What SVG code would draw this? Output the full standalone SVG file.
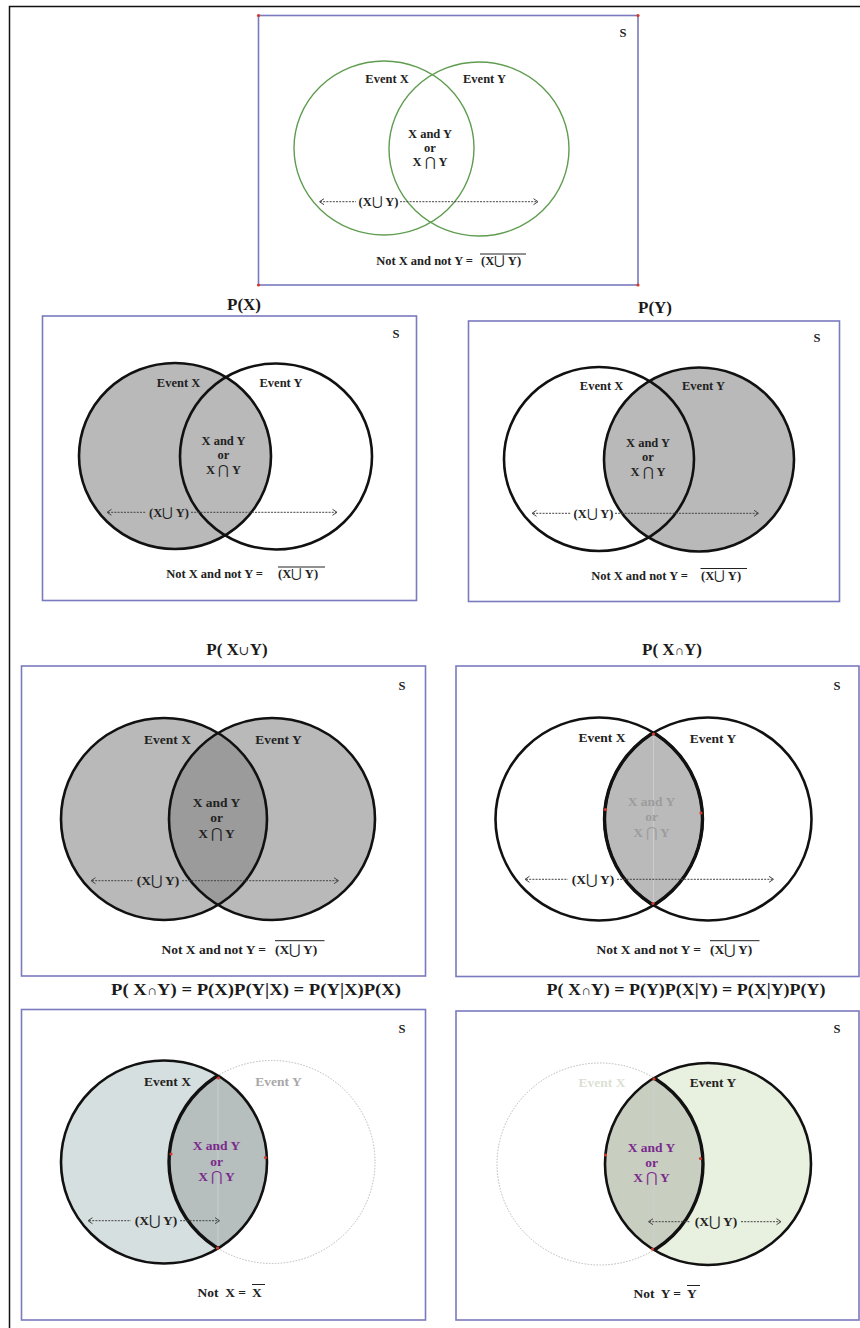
<svg xmlns="http://www.w3.org/2000/svg" width="860" height="1328" viewBox="0 0 860 1328">
<style>
.t{font-family:"Liberation Serif","DejaVu Serif",serif;font-weight:bold;fill:#222;text-anchor:middle}
.s{font-size:12.5px}
.m{font-size:13.5px}
.ttl{font-size:17px;fill:#1a1a1a}
.e{text-anchor:end}
.st{text-anchor:start}
.frame{fill:#fff;stroke:#7a7abf;stroke-width:1.6}
.green{fill:none;stroke:#5f9c50;stroke-width:1.4}
.ring{fill:none;stroke:#111;stroke-width:2.6}
.thick{fill:none;stroke:#111;stroke-width:3.4}
.ghost{fill:none;stroke:#b8b8b8;stroke-width:1;stroke-dasharray:1.5 1.5}
.ov{stroke:#222;stroke-width:1}
.dash{stroke:#444;stroke-width:1;stroke-dasharray:2 1.2;fill:none}
.head{stroke:#444;stroke-width:1;fill:none}
.dot{fill:#d23a2a}
.seam{stroke:#d0d0d0;stroke-width:0.8}
.sym{font-family:"DejaVu Serif",serif;font-weight:normal}
</style>
<defs>
<clipPath id="cR4"><ellipse cx="272" cy="819" rx="103" ry="101"/></clipPath>
<clipPath id="cR5"><ellipse cx="708" cy="819" rx="103.5" ry="101.5"/></clipPath>
<clipPath id="cL5"><ellipse cx="599" cy="819" rx="103.5" ry="101.5"/></clipPath>
<clipPath id="cR6"><ellipse cx="272" cy="1162" rx="103" ry="101.5"/></clipPath>
<clipPath id="cL6"><ellipse cx="164" cy="1162" rx="103" ry="101.5"/></clipPath>
<clipPath id="cL7"><ellipse cx="600" cy="1164" rx="103" ry="101"/></clipPath>
<clipPath id="cR7"><ellipse cx="708" cy="1164" rx="103" ry="101"/></clipPath>
</defs>
<rect width="860" height="1328" fill="#fff"/>
<path d="M9.5 1328 V6.5 H860" fill="none" stroke="#111" stroke-width="1.5"/>

<g id="panel-top">
<rect class="frame" x="258.5" y="15.5" width="379.5" height="269.5"/>
<circle class="dot" cx="258.5" cy="15.5" r="1.6"/><circle class="dot" cx="638" cy="15.5" r="1.6"/>
<circle class="dot" cx="258.5" cy="285" r="1.6"/><circle class="dot" cx="638" cy="285" r="1.6"/>
<ellipse class="green" cx="384" cy="148" rx="90" ry="87"/>
<ellipse class="green" cx="479" cy="149" rx="90" ry="87"/>
<text class="t s" x="623" y="37">S</text>
<text class="t s" x="387" y="83">Event X</text>
<text class="t s" x="484.5" y="83">Event Y</text>
<text class="t s" x="430" y="138">X and Y</text>
<text class="t s" x="430" y="152">or</text>
<text class="t s" x="430" y="165.5">X <tspan class="sym">⋂</tspan> Y</text>
<text class="t s e" x="473" y="265">Not X and not Y  =</text>
<text class="t s st" x="481" y="265">(X<tspan class="sym">⋃</tspan> Y)</text>
<line class="ov" x1="480" y1="254" x2="526" y2="254"/>
</g>

<g id="panel-px">
<text class="t ttl" x="244" y="310">P(X)</text>
<rect class="frame" x="42.5" y="316" width="374" height="284.5"/>
<ellipse cx="175" cy="456" rx="96" ry="93" fill="#b9b9b9"/>
<ellipse class="ring" cx="175" cy="456" rx="96" ry="93"/>
<ellipse class="ring" cx="276" cy="456.5" rx="96" ry="93"/>
<text class="t s" x="396" y="338">S</text>
<text class="t s" x="178.5" y="387">Event X</text>
<text class="t s" x="281" y="387">Event Y</text>
<text class="t s" x="223.5" y="445">X and Y</text>
<text class="t s" x="223.5" y="458.5">or</text>
<text class="t s" x="223.5" y="473.5">X <tspan class="sym">⋂</tspan> Y</text>
<text class="t s e" x="263" y="578">Not X and not Y  =</text>
<text class="t s st" x="278" y="578">(X<tspan class="sym">⋃</tspan> Y)</text>
<line class="ov" x1="278" y1="567" x2="325" y2="567"/>
</g>

<g id="panel-py">
<text class="t ttl" x="655" y="313">P(Y)</text>
<rect class="frame" x="468.5" y="321" width="371" height="280.5"/>
<ellipse cx="699" cy="459.5" rx="95" ry="92" fill="#b9b9b9"/>
<ellipse class="ring" cx="599" cy="459" rx="95" ry="92"/>
<ellipse class="ring" cx="699" cy="459.5" rx="95" ry="92"/>
<text class="t s" x="817" y="342">S</text>
<text class="t s" x="601.5" y="390">Event X</text>
<text class="t s" x="703.5" y="390">Event Y</text>
<text class="t s" x="648" y="447">X and Y</text>
<text class="t s" x="648" y="461">or</text>
<text class="t s" x="648" y="476">X <tspan class="sym">⋂</tspan> Y</text>
<text class="t s e" x="688" y="580">Not X and not Y  =</text>
<text class="t s st" x="701" y="580">(X<tspan class="sym">⋃</tspan> Y)</text>
<line class="ov" x1="700.5" y1="568.5" x2="747" y2="568.5"/>
</g>

<g id="panel-union">
<text class="t ttl" x="237" y="655">P( X<tspan font-weight="normal" font-size="13">∪</tspan>Y)</text>
<rect class="frame" x="21.5" y="666" width="404" height="310"/>
<ellipse cx="164" cy="819" rx="103" ry="101" fill="#b9b9b9"/>
<ellipse cx="272" cy="819" rx="103" ry="101" fill="#b9b9b9"/>
<ellipse cx="164" cy="819" rx="103" ry="101" fill="#9b9b9b" clip-path="url(#cR4)"/>
<ellipse class="ring" cx="164" cy="819" rx="103" ry="101"/>
<ellipse class="ring" cx="272" cy="819" rx="103" ry="101"/>
<text class="t s" x="402" y="690">S</text>
<text class="t m" x="167.5" y="743.5">Event X</text>
<text class="t m" x="278.5" y="743.5">Event Y</text>
<text class="t m" x="216.5" y="807">X and Y</text>
<text class="t m" x="216.5" y="821.5">or</text>
<text class="t m" x="216.5" y="837.5">X <tspan class="sym">⋂</tspan> Y</text>
<text class="t m e" x="266" y="953.5">Not X and not Y  =</text>
<text class="t m st" x="275" y="953.5">(X<tspan class="sym">⋃</tspan> Y)</text>
<line class="ov" x1="275" y1="940.7" x2="324.5" y2="940.7"/>
</g>

<g id="panel-intersection">
<text class="t ttl" x="672" y="655">P( X<tspan font-weight="normal" font-size="13">∩</tspan>Y)</text>
<rect class="frame" x="456" y="666" width="403" height="310.5"/>
<ellipse cx="599" cy="819" rx="103.5" ry="101.5" fill="#bababa" clip-path="url(#cR5)"/>
<line class="seam" x1="653.5" y1="736" x2="653.5" y2="902"/>
<ellipse class="ring" cx="599" cy="819" rx="103.5" ry="101.5"/>
<ellipse class="ring" cx="708" cy="819" rx="103.5" ry="101.5"/>
<ellipse class="thick" cx="599" cy="819" rx="103.5" ry="101.5" clip-path="url(#cR5)"/>
<ellipse class="thick" cx="708" cy="819" rx="103.5" ry="101.5" clip-path="url(#cL5)"/>
<circle class="dot" cx="653.5" cy="734" r="1.6"/><circle class="dot" cx="653" cy="903.5" r="1.6"/>
<circle class="dot" cx="605.5" cy="809.5" r="1.6"/><circle class="dot" cx="701" cy="813" r="1.6"/>
<text class="t s" x="837" y="690">S</text>
<text class="t m" x="602" y="742">Event X</text>
<text class="t m" x="713" y="743">Event Y</text>
<text class="t m" x="651.5" y="805.5" style="fill:#9c9c9c">X and Y</text>
<text class="t m" x="651.5" y="821" style="fill:#9c9c9c">or</text>
<text class="t m" x="651.5" y="837" style="fill:#9c9c9c">X <tspan class="sym">⋂</tspan> Y</text>
<text class="t m e" x="701" y="953.5">Not X and not Y  =</text>
<text class="t m st" x="710" y="953.5">(X<tspan class="sym">⋃</tspan> Y)</text>
<line class="ov" x1="710" y1="940.7" x2="759.5" y2="940.7"/>
</g>

<g id="panel-given-x">
<text class="t ttl" x="256" y="995" textLength="290" lengthAdjust="spacingAndGlyphs">P( X<tspan font-weight="normal" font-size="13">∩</tspan>Y) = P(X)P(Y|X) = P(Y|X)P(X)</text>
<rect class="frame" x="21.5" y="1009.5" width="404" height="310.5"/>
<ellipse cx="164" cy="1162" rx="103" ry="101.5" fill="#d6dfdf"/>
<ellipse cx="164" cy="1162" rx="103" ry="101.5" fill="#b6bebe" clip-path="url(#cR6)"/>
<line class="seam" x1="218" y1="1080" x2="218" y2="1246"/>
<ellipse class="ghost" cx="272" cy="1162" rx="103" ry="101.5"/>
<ellipse class="ring" cx="164" cy="1162" rx="103" ry="101.5"/>
<ellipse class="thick" cx="272" cy="1162" rx="103" ry="101.5" clip-path="url(#cL6)"/>
<circle class="dot" cx="218.5" cy="1078" r="1.6"/><circle class="dot" cx="217.5" cy="1248" r="1.6"/>
<circle class="dot" cx="171" cy="1154" r="1.6"/><circle class="dot" cx="265.5" cy="1157.5" r="1.6"/>
<text class="t s" x="402" y="1032.5">S</text>
<text class="t m" x="167.5" y="1086">Event X</text>
<text class="t m" x="278.5" y="1086" style="fill:#a8a8a8">Event Y</text>
<text class="t m" x="216.5" y="1150" style="fill:#7a2a8c">X and Y</text>
<text class="t m" x="216.5" y="1166" style="fill:#7a2a8c">or</text>
<text class="t m" x="216.5" y="1181" style="fill:#7a2a8c">X <tspan class="sym">⋂</tspan> Y</text>
<text class="t m e" x="246" y="1297" xml:space="preserve">Not  X =</text>
<text class="t m st" x="252" y="1297">X</text>
<line class="ov" x1="252" y1="1284.5" x2="265" y2="1284.5"/>
</g>

<g id="panel-given-y">
<text class="t ttl" x="686" y="995" textLength="279" lengthAdjust="spacingAndGlyphs">P( X<tspan font-weight="normal" font-size="13">∩</tspan>Y) = P(Y)P(X|Y) = P(X|Y)P(Y)</text>
<rect class="frame" x="456" y="1011" width="403" height="309"/>
<ellipse cx="708" cy="1164" rx="103" ry="101" fill="#e8f0df"/>
<ellipse cx="708" cy="1164" rx="103" ry="101" fill="#c8cec0" clip-path="url(#cL7)"/>
<line class="seam" x1="654" y1="1081" x2="654" y2="1247"/>
<ellipse class="ghost" cx="600" cy="1164" rx="103" ry="101"/>
<ellipse class="ring" cx="708" cy="1164" rx="103" ry="101"/>
<ellipse class="thick" cx="600" cy="1164" rx="103" ry="101" clip-path="url(#cR7)"/>
<circle class="dot" cx="654" cy="1079" r="1.6"/><circle class="dot" cx="652.5" cy="1249" r="1.6"/>
<circle class="dot" cx="605.5" cy="1155" r="1.6"/><circle class="dot" cx="700.5" cy="1158.5" r="1.6"/>
<text class="t s" x="837" y="1033">S</text>
<text class="t m" x="602" y="1087" style="fill:#dcdfd4">Event X</text>
<text class="t m" x="713" y="1087">Event Y</text>
<text class="t m" x="651.5" y="1152" style="fill:#7a2a8c">X and Y</text>
<text class="t m" x="651.5" y="1166.5" style="fill:#7a2a8c">or</text>
<text class="t m" x="651.5" y="1182" style="fill:#7a2a8c">X <tspan class="sym">⋂</tspan> Y</text>
<text class="t m e" x="681" y="1298" xml:space="preserve">Not  Y =</text>
<text class="t m st" x="687" y="1298">Y</text>
<line class="ov" x1="687" y1="1285.5" x2="700" y2="1285.5"/>
</g>

<g id="connectors">
<line class="dash" x1="320" y1="201.7" x2="356" y2="201.7"/>
<line class="dash" x1="400" y1="201.7" x2="537" y2="201.7"/>
<polyline class="head" points="324,198.7 319.5,201.7 324,204.7"/>
<polyline class="head" points="533.5,198.7 538,201.7 533.5,204.7"/>
<text class="t s" x="378.5" y="206">(X<tspan class="sym">⋃</tspan> Y)</text>
<line class="dash" x1="108" y1="512.3" x2="146" y2="512.3"/>
<line class="dash" x1="191" y1="512.3" x2="336" y2="512.3"/>
<polyline class="head" points="111.5,509.3 107,512.3 111.5,515.3"/>
<polyline class="head" points="332.5,509.3 337,512.3 332.5,515.3"/>
<text class="t s" x="169" y="516.5">(X<tspan class="sym">⋃</tspan> Y)</text>
<line class="dash" x1="533" y1="513.3" x2="571" y2="513.3"/>
<line class="dash" x1="615" y1="513.3" x2="758" y2="513.3"/>
<polyline class="head" points="536.5,510.3 532,513.3 536.5,516.3"/>
<polyline class="head" points="754,510.3 758.5,513.3 754,516.3"/>
<text class="t s" x="593.5" y="517.5">(X<tspan class="sym">⋃</tspan> Y)</text>
<line class="dash" x1="92" y1="880.7" x2="133" y2="880.7"/>
<line class="dash" x1="182" y1="880.7" x2="338" y2="880.7"/>
<polyline class="head" points="95.5,877.7 91,880.7 95.5,883.7"/>
<polyline class="head" points="334,877.7 338.5,880.7 334,883.7"/>
<text class="t m" x="158" y="885.3">(X<tspan class="sym">⋃</tspan> Y)</text>
<line class="dash" x1="526" y1="879.3" x2="568" y2="879.3"/>
<line class="dash" x1="617" y1="879.3" x2="773" y2="879.3"/>
<polyline class="head" points="529.5,876.3 525,879.3 529.5,882.3"/>
<polyline class="head" points="769,876.3 773.5,879.3 769,882.3"/>
<text class="t m" x="593" y="884">(X<tspan class="sym">⋃</tspan> Y)</text>
<line class="dash" x1="89" y1="1220.7" x2="131" y2="1220.7"/>
<line class="dash" x1="180" y1="1220.7" x2="219" y2="1220.7"/>
<polyline class="head" points="92.5,1217.7 88,1220.7 92.5,1223.7"/>
<polyline class="head" points="215,1217.7 219.5,1220.7 215,1223.7"/>
<text class="t m" x="156" y="1225.3">(X<tspan class="sym">⋃</tspan> Y)</text>
<line class="dash" x1="649" y1="1221.7" x2="690" y2="1221.7"/>
<line class="dash" x1="741" y1="1221.7" x2="780" y2="1221.7"/>
<polyline class="head" points="653,1218.7 648.5,1221.7 653,1224.7"/>
<polyline class="head" points="776.5,1218.7 781,1221.7 776.5,1224.7"/>
<text class="t m" x="716" y="1226.3">(X<tspan class="sym">⋃</tspan> Y)</text>
</g>
</svg>
